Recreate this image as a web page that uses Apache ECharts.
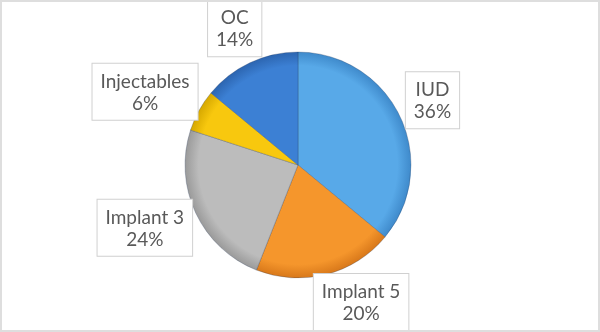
<!DOCTYPE html>
<html>
<head>
<meta charset="utf-8">
<script src="https://cdn.jsdelivr.net/npm/echarts@6/dist/echarts.min.js"></script>
<style>
html,body{margin:0;padding:0;background:#fff;}
#chart{width:600px;height:332px;}
</style>
</head>
<body>
<div id="chart"></div>
<script>
var categories = ['IUD', 'Implant 5', 'Implant 3', 'Injectables', 'OC'];
var values = [36, 20, 24, 6, 14];
var colors = ['#58a9e8', '#f5962c', '#bcbcbc', '#f8c80e', '#3c80d4'];
var rimColors = ['#3f8acb', '#d8781a', '#9a9a9a', '#d6a800', '#2c65b0'];

var W = 600, H = 332;
var CX = 298, CY = 165, R = 113;
var LABEL_GAP = 8;

var chart = echarts.init(document.getElementById('chart'), null, {renderer: 'canvas'});

var total = values.reduce(function (a, b) { return a + b; }, 0);
function midAngle(i) {
  var s = 0;
  for (var k = 0; k < i; k++) s += values[k];
  return ((s + values[i] / 2) / total) * 2 * Math.PI; // clockwise from top
}
function nearestDist(cx, cy, w, h) {
  var nx = Math.max(cx - w / 2, Math.min(CX, cx + w / 2));
  var ny = Math.max(cy - h / 2, Math.min(CY, cy + h / 2));
  return Math.sqrt((nx - CX) * (nx - CX) + (ny - CY) * (ny - CY));
}

var data = categories.map(function (c, i) {
  return {
    name: c,
    value: values[i],
    itemStyle: {
      color: {
        type: 'radial', x: CX, y: CY, r: R, global: true,
        colorStops: [
          {offset: 0, color: colors[i]},
          {offset: 0.88, color: colors[i]},
          {offset: 1, color: rimColors[i]}
        ]
      }
    }
  };
});

chart.setOption({
  animation: false,
  backgroundColor: '#ffffff',
  graphic: [{
    type: 'rect', z: 100, silent: true,
    shape: {x: 1, y: 1, width: W - 2, height: H - 2},
    style: {fill: 'none', stroke: '#dedede', lineWidth: 2}
  }],
  series: [{
    type: 'pie',
    center: [CX, CY],
    radius: [0, R],
    startAngle: 90,
    clockwise: true,
    avoidLabelOverlap: false,
    data: data,
    itemStyle: {borderColor: 'rgba(40,60,90,0.35)', borderWidth: 0.8},
    label: {
      show: true,
      position: 'outside',
      formatter: function (p) { return p.name + '\n' + p.value + '%'; },
      fontFamily: 'Lato, "Open Sans", sans-serif',
      fontSize: 19,
      lineHeight: 22,
      color: '#595959',
      align: 'center',
      backgroundColor: '#ffffff',
      borderColor: '#d0d0d0',
      borderWidth: 1,
      padding: [7, 8, 5, 8]
    },
    labelLine: {show: false},
    labelLayout: function (p) {
      var a = midAngle(p.dataIndex);
      var dx = Math.sin(a), dy = -Math.cos(a);
      var w = p.labelRect.width, h = p.labelRect.height;
      var s = R + LABEL_GAP;
      var cx = CX + dx * s + dx * w / 2;
      var cy = CY + dy * s + dy * h / 2;
      var clamped = false;
      if (cy + h / 2 > H) { cy = H - h / 2; clamped = true; }
      if (cy - h / 2 < 0) { cy = h / 2; clamped = true; }
      if (clamped) {
        var sx = dx >= 0 ? 1 : -1;
        while (nearestDist(cx, cy, w, h) < R - 3 && Math.abs(cx - CX) < W) cx += sx * 0.5;
      }
      return {x: cx, y: cy - h / 2, align: 'center', verticalAlign: 'top'};
    }
  }]
});
</script>
</body>
</html>
